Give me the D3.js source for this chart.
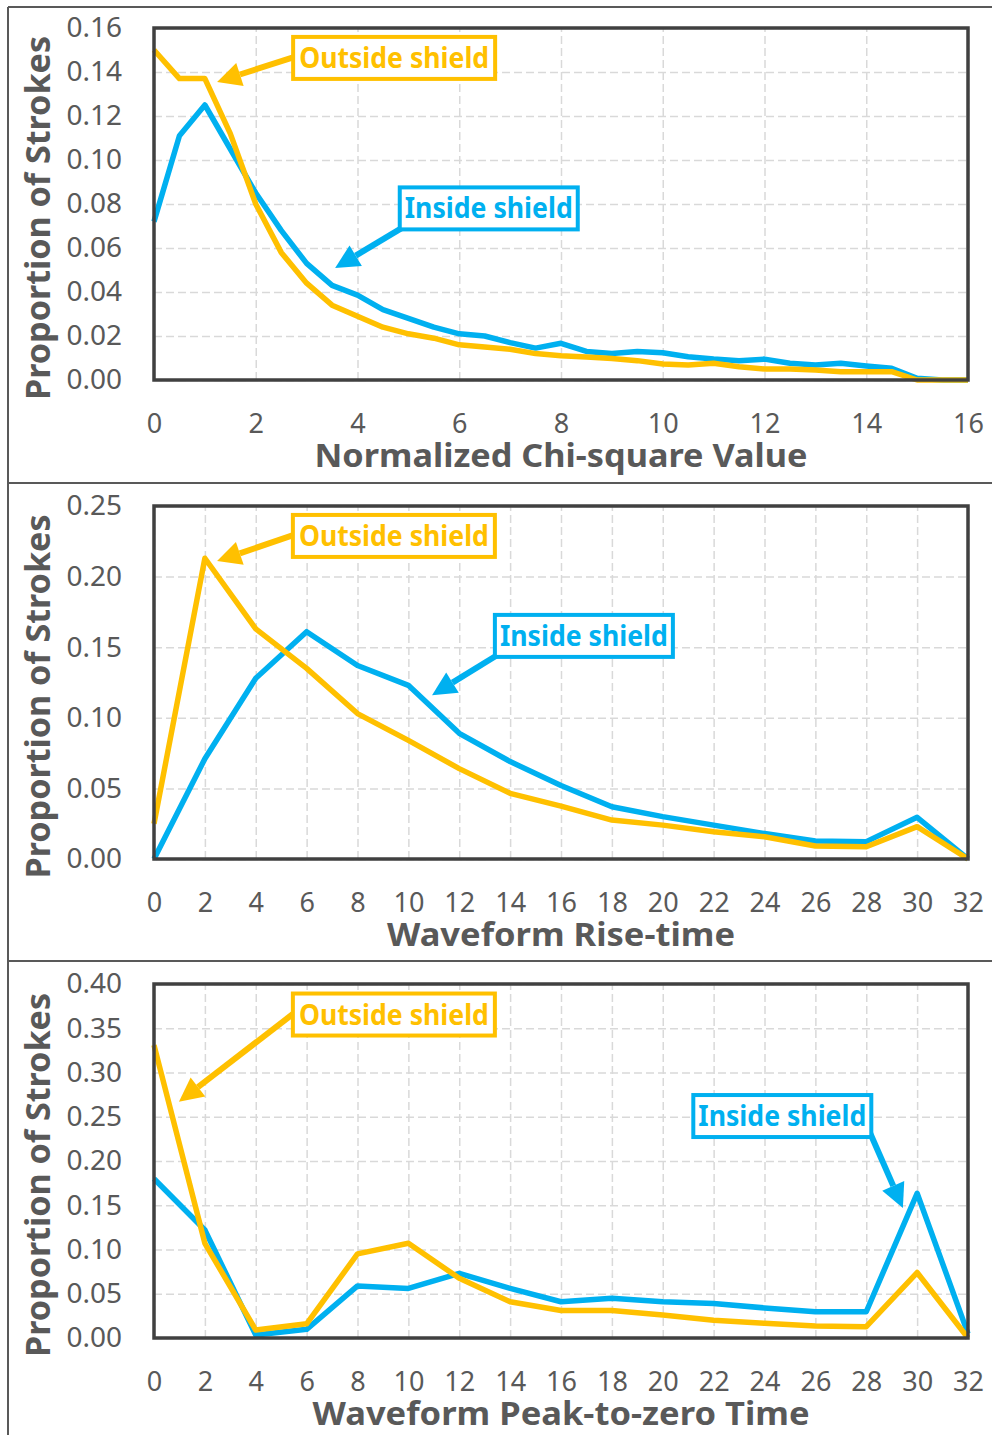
<!DOCTYPE html>
<html>
<head>
<meta charset="utf-8">
<script src="https://cdn.jsdelivr.net/npm/d3@7"></script>
<style>
  body { margin: 0; background: #fff; }
  svg { display: block; font-family: "Noto Sans", "Open Sans", sans-serif; }
</style>
</head>
<body>
<svg id="chart"></svg>
<script>
// ---- data ----
var chiX = [0, 0.5, 1, 1.5, 2, 2.5, 3, 3.5, 4, 4.5, 5, 5.5, 6, 6.5, 7, 7.5, 8,
            8.5, 9, 9.5, 10, 10.5, 11, 11.5, 12, 12.5, 13, 13.5, 14, 14.5, 15, 15.5, 16];
var chiOutside = [0.150, 0.137, 0.137, 0.112, 0.080, 0.058, 0.044, 0.034, 0.029, 0.024, 0.021, 0.019, 0.016, 0.015, 0.014, 0.012, 0.011,
                  0.0105, 0.0098, 0.0088, 0.0073, 0.0068, 0.0076, 0.0060, 0.0050, 0.0050, 0.0045, 0.0038, 0.0038, 0.0038, 0, 0, 0];
var chiInside = [0.072, 0.111, 0.125, 0.105, 0.085, 0.068, 0.053, 0.043, 0.0386, 0.032, 0.028, 0.024, 0.021, 0.020, 0.017, 0.0145, 0.0167,
                 0.013, 0.012, 0.013, 0.0124, 0.0106, 0.0095, 0.0088, 0.0095, 0.0076, 0.0068, 0.0076, 0.0064, 0.0053, 0.0008, 0, 0];

var timeX = [0, 2, 4, 6, 8, 10, 12, 14, 16, 18, 20, 22, 24, 26, 28, 30, 32];
var riseOutside = [0.025, 0.213, 0.163, 0.135, 0.103, 0.084, 0.064, 0.0465, 0.0375, 0.0276, 0.024, 0.0193, 0.0158, 0.0092, 0.0087, 0.0229, 0];
var riseInside = [0, 0.071, 0.128, 0.161, 0.137, 0.123, 0.089, 0.069, 0.052, 0.037, 0.030, 0.024, 0.018, 0.0127, 0.0123, 0.0295, 0];
var peakOutside = [0.331, 0.107, 0.009, 0.016, 0.095, 0.107, 0.0675, 0.041, 0.031, 0.031, 0.026, 0.020, 0.0166, 0.0136, 0.0128, 0.074, 0];
var peakInside = [0.180, 0.122, 0.0034, 0.0098, 0.0588, 0.056, 0.073, 0.056, 0.041, 0.0448, 0.041, 0.039, 0.034, 0.0297, 0.0297, 0.1635, 0.005];

// tick labels
var chiXTicks = [0, 2, 4, 6, 8, 10, 12, 14, 16];
var timeXTicks = [0, 2, 4, 6, 8, 10, 12, 14, 16, 18, 20, 22, 24, 26, 28, 30, 32];
var chiYTicks = [0, 0.02, 0.04, 0.06, 0.08, 0.10, 0.12, 0.14, 0.16];
var riseYTicks = [0, 0.05, 0.10, 0.15, 0.20, 0.25];
var peakYTicks = [0, 0.05, 0.10, 0.15, 0.20, 0.25, 0.30, 0.35, 0.40];

var xTitles = ["Normalized Chi-square Value", "Waveform Rise-time", "Waveform Peak-to-zero Time"];
var yTitle = "Proportion of Strokes";
var seriesNames = ["Outside shield", "Inside shield"];

var W = 992, H = 1435;
var ORANGE = "#FFC000", BLUE = "#00B0F0", GREY = "#595959";

var svg = d3.select("#chart").attr("width", W).attr("height", H);
svg.append("rect").attr("width", W).attr("height", H).attr("fill", "#fff");

// outer frame and separators
svg.append("line").attr("x1", 8).attr("x2", W).attr("y1", 7).attr("y2", 7).attr("stroke", GREY).attr("stroke-width", 2);
svg.append("line").attr("x1", 8).attr("x2", 8).attr("y1", 7).attr("y2", H).attr("stroke", GREY).attr("stroke-width", 2);
[483, 961].forEach(function (yy) {
    svg.append("line").attr("x1", 8).attr("x2", W).attr("y1", yy).attr("y2", yy).attr("stroke", GREY).attr("stroke-width", 2);
});

// annotation placement is in data units (box centre, arrow start, arrow tip)
var panels = [
    {top: 28, bottom: 380, xMax: 16, yMax: 0.16, x: chiX, out: chiOutside, ins: chiInside,
     xTicks: chiXTicks, yTicks: chiYTicks, title: xTitles[0], titleLen: 493,
     notes: [
        {name: 0, box: [4.72, 0.1464], from: [2.75, 0.1468], to: [1.24, 0.1355]},
        {name: 1, box: [6.58, 0.0780], from: [4.90, 0.0695], to: [3.56, 0.0509]}
     ]},
    {top: 506, bottom: 859, xMax: 32, yMax: 0.25, x: timeX, out: riseOutside, ins: riseInside,
     xTicks: timeXTicks, yTicks: riseYTicks, title: xTitles[1], titleLen: 348,
     notes: [
        {name: 0, box: [9.43, 0.2288], from: [5.50, 0.2295], to: [2.48, 0.211]},
        {name: 1, box: [16.9, 0.158], from: [13.5, 0.1445], to: [10.93, 0.116]}
     ]},
    {top: 984, bottom: 1338, xMax: 32, yMax: 0.40, x: timeX, out: peakOutside, ins: peakInside,
     xTicks: timeXTicks, yTicks: peakYTicks, title: xTitles[2], titleLen: 497,
     notes: [
        {name: 0, box: [9.43, 0.3655], from: [5.50, 0.367], to: [0.98, 0.267]},
        {name: 1, box: [24.7, 0.2508], from: [28.1, 0.235], to: [29.44, 0.147]}
     ]}
];

var L = 154, R = 968;
var boxW = [202, 178], boxH = 42, textW = [190, 168];
var colors = [ORANGE, BLUE];

panels.forEach(function (p) {
    var x = d3.scaleLinear().domain([0, p.xMax]).range([L, R]);
    var y = d3.scaleLinear().domain([0, p.yMax]).range([p.bottom, p.top]);
    var g = svg.append("g");

    // grid
    var gy = g.append("g").attr("transform", "translate(" + L + ",0)")
        .call(d3.axisLeft(y).tickValues(p.yTicks).tickSize(-(R - L)).tickFormat(""));
    var gx = g.append("g").attr("transform", "translate(0," + p.bottom + ")")
        .call(d3.axisBottom(x).tickValues(p.xTicks).tickSize(-(p.bottom - p.top)).tickFormat(""));
    [gy, gx].forEach(function (a) {
        a.select(".domain").remove();
        a.selectAll("line").attr("stroke", "#d9d9d9").attr("stroke-width", 1.5).attr("stroke-dasharray", "8,4");
    });

    // tick labels
    var ya = g.append("g").attr("transform", "translate(" + L + ",0)")
        .call(d3.axisLeft(y).tickValues(p.yTicks).tickSize(0).tickPadding(32).tickFormat(d3.format(".2f")));
    var xa = g.append("g").attr("transform", "translate(0," + p.bottom + ")")
        .call(d3.axisBottom(x).tickValues(p.xTicks).tickSize(0).tickPadding(34).tickFormat(d3.format("d")));
    [ya, xa].forEach(function (a) {
        a.select(".domain").remove();
        a.selectAll("text").attr("font-size", 28).attr("fill", GREY)
            .attr("font-family", "'Noto Sans', 'Open Sans', sans-serif");
    });
    xa.selectAll("text").attr("font-size", 27);

    // series
    var line = d3.line()
        .x(function (d, i) { return x(p.x[i]); })
        .y(function (d) { return y(d); });
    [[p.ins, BLUE], [p.out, ORANGE]].forEach(function (s) {
        g.append("path").datum(s[0])
            .attr("d", line)
            .attr("fill", "none")
            .attr("stroke", s[1])
            .attr("stroke-width", 5.5)
            .attr("stroke-linejoin", "round");
    });

    // plot frame
    g.append("rect").attr("x", L).attr("y", p.top).attr("width", R - L).attr("height", p.bottom - p.top)
        .attr("fill", "none").attr("stroke", "#404040").attr("stroke-width", 3.5);

    // axis titles
    g.append("text")
        .attr("x", (L + R) / 2).attr("y", p.bottom + 87)
        .attr("text-anchor", "middle").attr("font-size", 32).attr("font-weight", "bold")
        .attr("fill", GREY).attr("textLength", p.titleLen).attr("lengthAdjust", "spacingAndGlyphs")
        .text(p.title);
    var cy = (p.top + p.bottom) / 2 + 14;
    g.append("text")
        .attr("transform", "translate(50," + cy + ")rotate(-90)")
        .attr("text-anchor", "middle").attr("font-size", 34).attr("font-weight", "bold")
        .attr("fill", GREY).attr("textLength", 364).attr("lengthAdjust", "spacingAndGlyphs")
        .text(yTitle);

    // callouts
    p.notes.forEach(function (n) {
        var c = colors[n.name];
        var x0 = x(n.from[0]), y0 = y(n.from[1]);
        var x1 = x(n.to[0]), y1 = y(n.to[1]);
        var ang = Math.atan2(y1 - y0, x1 - x0);
        var head = 24, half = 12;
        var bx = x1 - head * Math.cos(ang), by = y1 - head * Math.sin(ang);
        g.append("line").attr("x1", x0).attr("y1", y0).attr("x2", bx).attr("y2", by)
            .attr("stroke", c).attr("stroke-width", 6);
        var pts = [
            [x1, y1],
            [bx + half * Math.sin(ang), by - half * Math.cos(ang)],
            [bx - half * Math.sin(ang), by + half * Math.cos(ang)]
        ];
        g.append("polygon").attr("points", pts.map(function (q) { return q.join(","); }).join(" ")).attr("fill", c);

        var cx = x(n.box[0]), cyb = y(n.box[1]);
        g.append("rect")
            .attr("x", cx - boxW[n.name] / 2).attr("y", cyb - boxH / 2)
            .attr("width", boxW[n.name]).attr("height", boxH)
            .attr("fill", "#fff").attr("stroke", c).attr("stroke-width", 4);
        g.append("text")
            .attr("x", cx).attr("y", cyb + 10)
            .attr("text-anchor", "middle").attr("font-size", 28).attr("font-weight", "bold")
            .attr("fill", c).attr("textLength", textW[n.name]).attr("lengthAdjust", "spacingAndGlyphs")
            .text(seriesNames[n.name]);
    });
});
</script>
</body>
</html>
